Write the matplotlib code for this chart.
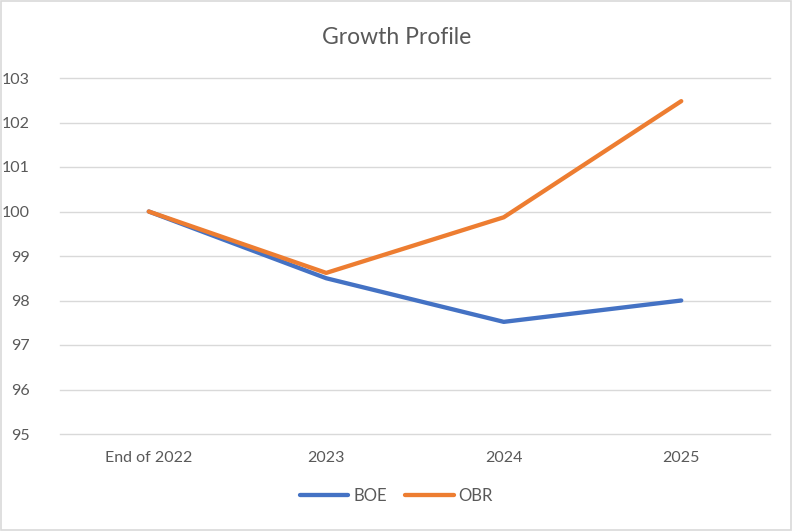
import matplotlib.pyplot as plt
from matplotlib.patches import Rectangle

categories = ["End of 2022", "2023", "2024", "2025"]
boe = [100.0, 98.5, 97.52, 98.0]
obr = [100.0, 98.62, 99.87, 102.48]
yticks = [95, 96, 97, 98, 99, 100, 101, 102, 103]

plt.rcParams["font.family"] = ["Lato", "DejaVu Sans"]
text_color = "#595959"

fig = plt.figure(figsize=(7.93, 5.31), dpi=100)
ax = fig.add_axes([60 / 793, 1 - 434 / 531, 710 / 793, 356 / 531])

x = range(len(categories))
ax.plot(x, boe, color="#4472C4", lw=3.1, solid_capstyle="round", solid_joinstyle="round", label="BOE", zorder=3)
ax.plot(x, obr, color="#ED7D31", lw=3.1, solid_capstyle="round", solid_joinstyle="round", label="OBR", zorder=3)

ax.set_xlim(-0.5, 3.5)
ax.set_ylim(95, 103)
ax.set_yticks(yticks)
ax.set_xticks(list(x))
ax.set_xticklabels(categories)
ax.grid(axis="y", color="#D9D9D9", lw=1.0)
for gl in ax.get_ygridlines():
    gl.set_clip_on(False)
ax.set_axisbelow(True)
for s in ax.spines.values():
    s.set_visible(False)
ax.tick_params(length=0, labelsize=11.5, colors=text_color, pad=12)
ax.tick_params(axis="y", pad=22)

fig.text(0.5, 1 - 37 / 531, "Growth Profile", ha="center", va="center", fontsize=16.5, color=text_color)

leg = fig.legend(loc="center", bbox_to_anchor=(0.5, 1 - 496 / 531), ncol=2, frameon=False,
                 fontsize=12, handlelength=2.9, columnspacing=1.1, handletextpad=0.3)
for t in leg.get_texts():
    t.set_color(text_color)

fig.patches.append(Rectangle((0.001, 0.001), 0.997, 0.997, transform=fig.transFigure,
                             fill=False, edgecolor="#D9D9D9", lw=1.2))

fig.savefig("out.png", dpi=100)
